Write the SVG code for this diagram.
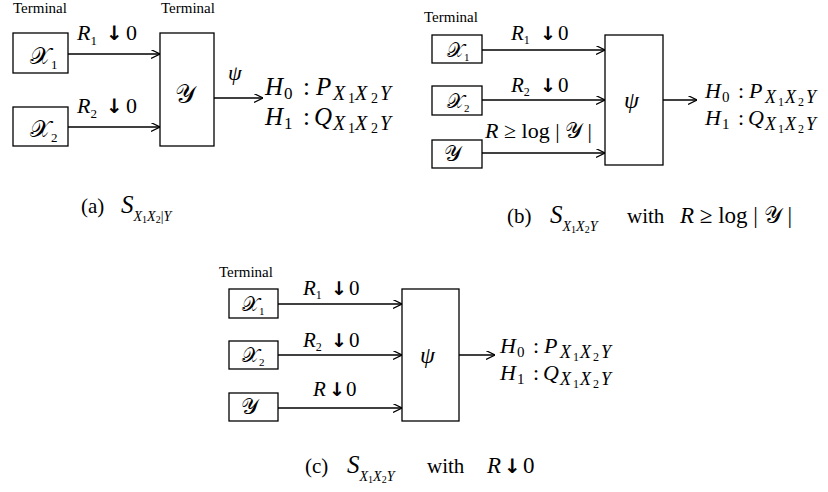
<svg xmlns="http://www.w3.org/2000/svg" width="828" height="492" viewBox="0 0 828 492">
<defs>
<marker id="ah" viewBox="0 0 10 10" refX="10" refY="5" markerWidth="9" markerHeight="9" markerUnits="userSpaceOnUse" orient="auto">
<path d="M0,0 L10,5 L0,10" fill="none" stroke="#000" stroke-width="1.3"/>
</marker>
<style>
text{font-family:"Liberation Serif","DejaVu Serif",serif;fill:#000}
.t{font-family:"Liberation Serif",serif;font-size:15px}
.i{font-style:italic}
.box{fill:#fff;stroke:#000;stroke-width:1.3}
.ln{stroke:#000;stroke-width:1.3;fill:none;marker-end:url(#ah)}
.cal{font-family:"DejaVu Sans","Noto Sans",serif;font-style:normal}
.ar{font-family:"DejaVu Sans",sans-serif;font-weight:bold}
.h{font-size:22px}
.ha{font-size:25px}
</style>
</defs>
<rect width="828" height="492" fill="#fff"/>

<g id="connectors">
<line class="ln" x1="68" y1="54" x2="160" y2="54"/>
<line class="ln" x1="68" y1="127" x2="160" y2="127" stroke-width="2"/>
<line class="ln" x1="214" y1="98" x2="263" y2="98"/>
<line class="ln" x1="482" y1="50" x2="605" y2="50"/>
<line class="ln" x1="482" y1="100" x2="605" y2="100"/>
<line class="ln" x1="482" y1="153" x2="605" y2="153"/>
<line class="ln" x1="663" y1="100" x2="697" y2="100"/>
<line class="ln" x1="278" y1="304" x2="402" y2="304"/>
<line class="ln" x1="278" y1="355" x2="402" y2="355"/>
<line class="ln" x1="278" y1="408" x2="402" y2="408"/>
<line class="ln" x1="459" y1="355" x2="495" y2="355"/>
</g>

<!-- Panel (a) -->
<g id="a-x1">
<text class="t" x="13" y="13">Terminal</text>
<rect class="box" x="13" y="33" width="55" height="40"/>
<text x="30" y="64" font-size="24"><tspan class="cal">𝒳</tspan><tspan font-size="13" dy="5">1</tspan></text>
</g>
<g id="a-x2">
<rect class="box" x="13" y="107" width="55" height="39"/>
<text x="30" y="137" font-size="24"><tspan class="cal">𝒳</tspan><tspan font-size="13" dy="5">2</tspan></text>
</g>
<g id="a-y">
<text class="t" x="161" y="13">Terminal</text>
<rect class="box" x="160" y="33" width="54" height="113"/>
<text x="175" y="103" font-size="26" class="cal">𝒴</text>
</g>
<g id="a-labels">
<text x="77" y="40" font-size="22"><tspan class="i">R</tspan><tspan font-size="13" dy="5">1</tspan></text>
<text x="106" y="40" font-size="20" class="ar">↓</text><text x="126" y="40" font-size="22">0</text>
<text x="77" y="113" font-size="22"><tspan class="i">R</tspan><tspan font-size="13" dy="5">2</tspan></text>
<text x="106" y="113" font-size="20" class="ar">↓</text><text x="126" y="113" font-size="22">0</text>
<text x="228" y="80" font-size="22" class="i">ψ</text>
<text class="ha" y="95"><tspan class="i" x="265">H</tspan><tspan font-size="17" x="284" dy="4">0</tspan><tspan x="303" dy="-4">:</tspan><tspan class="i" x="316">P</tspan><tspan class="i" font-size="20" x="333" dy="5">X</tspan><tspan font-size="14" x="348" dy="3">1</tspan><tspan class="i" font-size="20" x="355" dy="-3">X</tspan><tspan font-size="14" x="371" dy="3">2</tspan><tspan class="i" font-size="20" x="380" dy="-3">Y</tspan></text>
<text class="ha" y="125"><tspan class="i" x="265">H</tspan><tspan font-size="17" x="284" dy="4">1</tspan><tspan x="303" dy="-4">:</tspan><tspan class="i" x="314">Q</tspan><tspan class="i" font-size="20" x="333" dy="5">X</tspan><tspan font-size="14" x="348" dy="3">1</tspan><tspan class="i" font-size="20" x="355" dy="-3">X</tspan><tspan font-size="14" x="371" dy="3">2</tspan><tspan class="i" font-size="20" x="380" dy="-3">Y</tspan></text>
<text x="81" y="213" font-size="21">(a)</text>
<text x="121" y="213" font-size="25"><tspan class="i">S</tspan><tspan class="i" font-size="14" dy="8">X</tspan><tspan font-size="10" dy="2">1</tspan><tspan class="i" font-size="14" dy="-2">X</tspan><tspan font-size="10" dy="2">2</tspan><tspan font-size="14" dy="-2">|</tspan><tspan class="i" font-size="14">Y</tspan></text>
</g>

<!-- Panel (b) -->
<g id="b-x1">
<text class="t" x="424" y="22">Terminal</text>
<rect class="box" x="432" y="35" width="50" height="28"/>
<text x="447" y="57" font-size="20"><tspan class="cal">𝒳</tspan><tspan font-size="11" dy="4">1</tspan></text>
</g>
<g id="b-x2">
<rect class="box" x="432" y="86" width="50" height="29"/>
<text x="447" y="108" font-size="20"><tspan class="cal">𝒳</tspan><tspan font-size="11" dy="4">2</tspan></text>
</g>
<g id="b-y">
<rect class="box" x="432" y="140" width="50" height="28"/>
<text x="444" y="161" font-size="22" class="cal">𝒴</text>
</g>
<g id="b-psi">
<rect class="box" x="605" y="35" width="58" height="130"/>
<text x="624" y="108" font-size="24" class="i">ψ</text>
</g>
<g id="b-labels">
<text x="511" y="40" font-size="21"><tspan class="i">R</tspan><tspan font-size="12" dy="4">1</tspan></text>
<text x="540" y="40" font-size="19" class="ar">↓</text><text x="558" y="40" font-size="21">0</text>
<text x="511" y="92" font-size="21"><tspan class="i">R</tspan><tspan font-size="12" dy="4">2</tspan></text>
<text x="540" y="92" font-size="19" class="ar">↓</text><text x="558" y="92" font-size="21">0</text>
<text x="485" y="138" font-size="22"><tspan class="i">R</tspan> ≥ log | <tspan class="cal">𝒴</tspan> |</text>
<text class="h" y="98"><tspan class="i" x="705">H</tspan><tspan font-size="15" x="722" dy="4">0</tspan><tspan x="738" dy="-4">:</tspan><tspan class="i" x="749">P</tspan><tspan class="i" font-size="18" x="765" dy="5">X</tspan><tspan font-size="12" x="778" dy="3">1</tspan><tspan class="i" font-size="18" x="785" dy="-3">X</tspan><tspan font-size="12" x="798" dy="3">2</tspan><tspan class="i" font-size="18" x="806" dy="-3">Y</tspan></text>
<text class="h" y="125"><tspan class="i" x="705">H</tspan><tspan font-size="15" x="722" dy="4">1</tspan><tspan x="738" dy="-4">:</tspan><tspan class="i" x="748">Q</tspan><tspan class="i" font-size="18" x="765" dy="5">X</tspan><tspan font-size="12" x="778" dy="3">1</tspan><tspan class="i" font-size="18" x="785" dy="-3">X</tspan><tspan font-size="12" x="798" dy="3">2</tspan><tspan class="i" font-size="18" x="806" dy="-3">Y</tspan></text>
<text x="507" y="223" font-size="21">(b)</text>
<text x="550" y="223" font-size="25"><tspan class="i">S</tspan><tspan class="i" font-size="14" dy="8">X</tspan><tspan font-size="10" dy="2">1</tspan><tspan class="i" font-size="14" dy="-2">X</tspan><tspan font-size="10" dy="2">2</tspan><tspan class="i" font-size="14" dy="-2">Y</tspan></text>
<text x="627" y="223" font-size="21">with</text>
<text x="680" y="223" font-size="23"><tspan class="i">R</tspan> ≥ log | <tspan class="cal">𝒴</tspan> |</text>
</g>

<!-- Panel (c) -->
<g id="c-x1">
<text class="t" x="219" y="277">Terminal</text>
<rect class="box" x="229" y="289" width="49" height="29"/>
<text x="242" y="311" font-size="20"><tspan class="cal">𝒳</tspan><tspan font-size="11" dy="4">1</tspan></text>
</g>
<g id="c-x2">
<rect class="box" x="229" y="341" width="49" height="28"/>
<text x="242" y="362" font-size="20"><tspan class="cal">𝒳</tspan><tspan font-size="11" dy="4">2</tspan></text>
</g>
<g id="c-y">
<rect class="box" x="229" y="393" width="49" height="28"/>
<text x="241" y="414" font-size="22" class="cal">𝒴</text>
</g>
<g id="c-psi">
<rect class="box" x="402" y="289" width="57" height="132"/>
<text x="420" y="363" font-size="24" class="i">ψ</text>
</g>
<g id="c-labels">
<text x="303" y="295" font-size="21"><tspan class="i">R</tspan><tspan font-size="12" dy="4">1</tspan></text>
<text x="331" y="295" font-size="19" class="ar">↓</text><text x="349" y="295" font-size="21">0</text>
<text x="303" y="347" font-size="21"><tspan class="i">R</tspan><tspan font-size="12" dy="4">2</tspan></text>
<text x="331" y="347" font-size="19" class="ar">↓</text><text x="349" y="347" font-size="21">0</text>
<text x="313" y="396" font-size="21" class="i">R</text>
<text x="329" y="396" font-size="19" class="ar">↓</text><text x="346" y="396" font-size="21">0</text>
<text class="h" y="353"><tspan class="i" x="500">H</tspan><tspan font-size="15" x="517" dy="4">0</tspan><tspan x="533" dy="-4">:</tspan><tspan class="i" x="544">P</tspan><tspan class="i" font-size="18" x="560" dy="5">X</tspan><tspan font-size="12" x="573" dy="3">1</tspan><tspan class="i" font-size="18" x="580" dy="-3">X</tspan><tspan font-size="12" x="593" dy="3">2</tspan><tspan class="i" font-size="18" x="601" dy="-3">Y</tspan></text>
<text class="h" y="380"><tspan class="i" x="500">H</tspan><tspan font-size="15" x="517" dy="4">1</tspan><tspan x="533" dy="-4">:</tspan><tspan class="i" x="543">Q</tspan><tspan class="i" font-size="18" x="560" dy="5">X</tspan><tspan font-size="12" x="573" dy="3">1</tspan><tspan class="i" font-size="18" x="580" dy="-3">X</tspan><tspan font-size="12" x="593" dy="3">2</tspan><tspan class="i" font-size="18" x="601" dy="-3">Y</tspan></text>
<text x="305" y="473" font-size="21">(c)</text>
<text x="347" y="473" font-size="25"><tspan class="i">S</tspan><tspan class="i" font-size="14" dy="8">X</tspan><tspan font-size="10" dy="2">1</tspan><tspan class="i" font-size="14" dy="-2">X</tspan><tspan font-size="10" dy="2">2</tspan><tspan class="i" font-size="14" dy="-2">Y</tspan></text>
<text x="427" y="473" font-size="21">with</text>
<text x="487" y="473" font-size="23" class="i">R</text>
<text x="504" y="473" font-size="20" class="ar">↓</text><text x="523" y="473" font-size="23">0</text>
</g>
</svg>
